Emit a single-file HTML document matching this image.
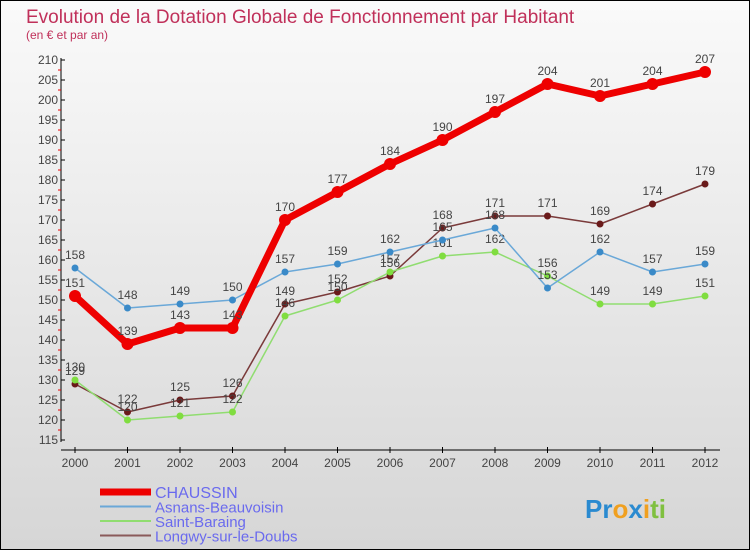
<!DOCTYPE html>
<html><head><meta charset="utf-8"><style>
body{margin:0}
#c{width:750px;height:550px;position:relative;overflow:hidden;box-sizing:border-box;border:1px solid #000;background:linear-gradient(#fafafa,#d6d6d6);font-family:"Liberation Sans",sans-serif}
</style></head><body>
<div id="c">
<svg id="s" width="750" height="550" style="position:absolute;left:-1px;top:-1px">
<text x="26" y="23" font-size="19" fill="#c0305a">Evolution de la Dotation Globale de Fonctionnement par Habitant</text>
<text x="26" y="39" font-size="12" fill="#c0305a">(en € et par an)</text>
<g id="axes"></g><g id="series"></g><g id="legend"></g>
<text x="585" y="518" font-size="26" font-weight="bold"><tspan fill="#2a8ad0">Pr</tspan><tspan fill="#f0a020">o</tspan><tspan fill="#2a8ad0">x</tspan><tspan fill="#f0a020">i</tspan><tspan fill="#80c040">ti</tspan></text>
</svg></div>
<script>
const years=["2000","2001","2002","2003","2004","2005","2006","2007","2008","2009","2010","2011","2012"];
const chaussin=[151,139,143,143,170,177,184,190,197,204,201,204,207];
const asnans=[158,148,149,150,157,159,162,165,168,153,162,157,159];
const baraing=[130,120,121,122,146,150,157,161,162,156,149,149,151];
const longwy=[129,122,125,126,149,152,156,168,171,171,169,174,179];
const yTicks=[115,120,125,130,135,140,145,150,155,160,165,170,175,180,185,190,195,200,205,210];
const names=["CHAUSSIN","Asnans-Beauvoisin","Saint-Baraing","Longwy-sur-le-Doubs"];
const NS="http://www.w3.org/2000/svg";
const X=i=>75+i*52.5, Y=v=>60+(210-v)*4;
function mk(t,a,p){const e=document.createElementNS(NS,t);for(const k in a)e.setAttribute(k,a[k]);p.appendChild(e);return e;}
const ax=document.getElementById('axes');
let l=mk('line',{x1:61,y1:58,x2:61,y2:442,stroke:'#000'},ax);

l=mk('line',{x1:61,y1:450,x2:720,y2:450,stroke:'#000'},ax);

yTicks.forEach(v=>{
 mk('line',{x1:61,y1:Y(v),x2:65,y2:Y(v),stroke:'#000'},ax);
 if(v>115)mk('line',{x1:58,y1:Y(v-2.5),x2:61,y2:Y(v-2.5),stroke:'#e00'},ax);
 const t=mk('text',{x:58,y:Y(v)+4,'font-size':12,fill:'#444','text-anchor':'end'},ax);t.textContent=v;
 
});
years.forEach((y,i)=>{
 mk('line',{x1:X(i),y1:447,x2:X(i),y2:453,stroke:'#000'},ax);
 const t=mk('text',{x:X(i),y:467,'font-size':12,fill:'#444','text-anchor':'middle'},ax);t.textContent=y;
 
});
const sg=document.getElementById('series');
const defs=[[longwy,'#7a3a3a','#6a1a1a',1.5,3.5],[baraing,'#90dd70','#80dd40',1.5,3.5],[asnans,'#6aa8d8','#3a8ac8',1.5,3.5],[chaussin,'#ee0000','#ee0000',7,6]];
const sname=['longwy','saint-baraing','asnans','chaussin'];
defs.forEach((d,k)=>{
 const g=mk('g',{},sg);
 
 const p=mk('polyline',{points:d[0].map((v,i)=>X(i)+','+Y(v)).join(' '),fill:'none',stroke:d[1],'stroke-width':d[3],'stroke-linejoin':'round'},g);
 
 d[0].forEach((v,i)=>{
  const c=mk('circle',{cx:X(i),cy:Y(v),r:d[4],fill:d[2]},g);
  
  const t=mk('text',{x:X(i),y:Y(v)-9,'font-size':12,fill:'#444','text-anchor':'middle'},g);t.textContent=v;
  
 });
});
const lg=document.getElementById('legend');
const lc=[['#ee0000',7],['#6aa8d8',2],['#90dd70',2],['#8a5a5a',2]];
names.forEach((n,k)=>{
 const y=492+k*14.5;
 const g=mk('g',{},lg);
 
 mk('line',{x1:100,y1:y,x2:151,y2:y,stroke:lc[k][0],'stroke-width':lc[k][1]},g);
 const t=mk('text',{x:155,y:y+6,'font-size':k==0?16:15,fill:'#6a6aee'},g);t.textContent=n;
});
</script></body></html>
